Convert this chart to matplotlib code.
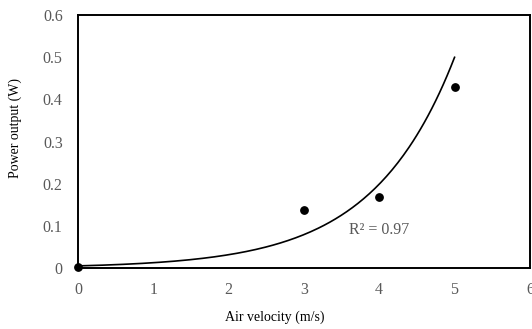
import matplotlib.pyplot as plt
import numpy as np

plt.rcParams['font.family'] = ['Liberation Serif', 'DejaVu Serif']

velocidade = [0, 3, 4, 5]
potencia = [0.002, 0.138, 0.169, 0.43]

# exponential trendline coefficients (y = a*e^(b*x))
tend_a = 0.005
tend_b = 0.921
r2_texto = "R² = 0.97"

xticks = [0, 1, 2, 3, 4, 5, 6]
yticks = [0, 0.1, 0.2, 0.3, 0.4, 0.5, 0.6]
cinza = "#595959"

fig = plt.figure(figsize=(5.32, 3.29), dpi=100)
ax = fig.add_axes([0.1466, 0.1854, 0.8494, 0.7686])

xt = np.linspace(min(velocidade), max(velocidade), 200)
ax.plot(xt, tend_a * np.exp(tend_b * xt), color="black", linewidth=1.2)
ax.scatter(velocidade, potencia, color="black", s=28, zorder=3, clip_on=False)

ax.set_xlim(0, 6)
ax.set_ylim(0, 0.6)
ax.set_xticks(xticks)
ax.set_yticks(yticks)
ax.set_yticklabels(["0", "0.1", "0.2", "0.3", "0.4", "0.5", "0.6"])
ax.tick_params(length=0, labelsize=11.5, colors=cinza)
ax.tick_params(axis="y", pad=11)
ax.tick_params(axis="x", pad=10)
for s in ax.spines.values():
    s.set_linewidth(1.4)
    s.set_color("black")

ax.text(4.0, 0.09, r2_texto, color=cinza, fontsize=11.5, ha="center", va="center")

ax.set_xlabel("Air velocity (m/s)", fontsize=10)
ax.set_ylabel("Power output (W)", fontsize=10)
ax.xaxis.set_label_coords(0.435, -0.17)
ax.yaxis.set_label_coords(-0.125, 0.555)

fig.savefig("out.png", dpi=100)
